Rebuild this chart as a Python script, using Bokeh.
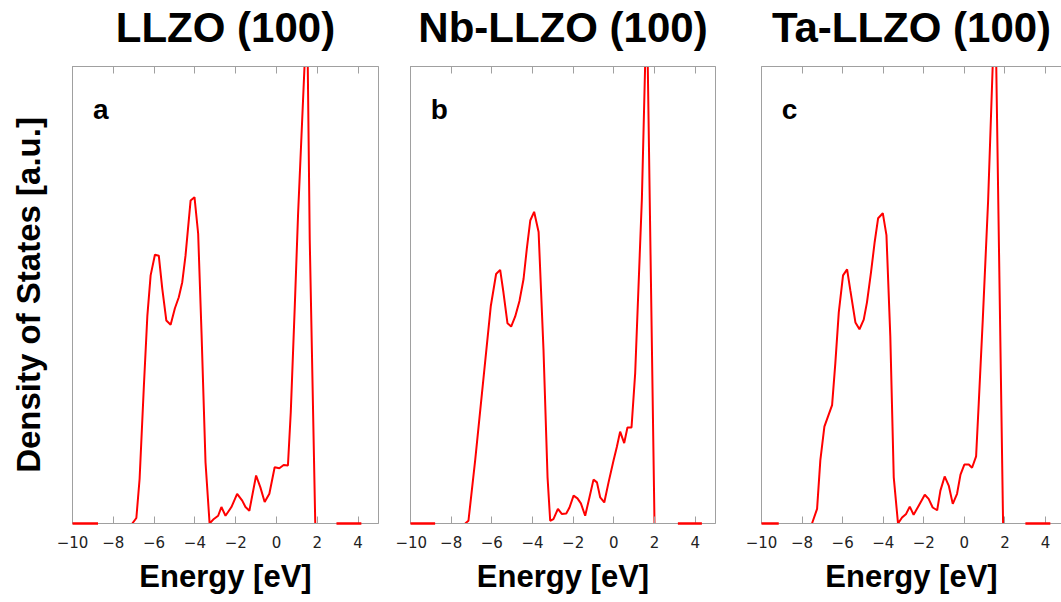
from bokeh.plotting import figure
from bokeh.models import LinearAxis, FixedTicker, Range1d, Label
from bokeh.layouts import row
from bokeh.embed import file_html
from bokeh.resources import INLINE

titles = ["LLZO (100)", "Nb-LLZO (100)", "Ta-LLZO (100)"]
letters = ["a", "b", "c"]
x_ticks = [-10, -8, -6, -4, -2, 0, 2, 4]
x_label = "Energy [eV]"
y_label = "Density of States [a.u.]"

energy_a = [-7.07, -6.87, -6.71, -6.50, -6.33, -6.17, -5.96, -5.77, -5.60, -5.40,
            -5.19, -4.98, -4.79, -4.62, -4.46, -4.21, -4.02, -3.84, -3.67, -3.48,
            -3.28, -3.07, -2.86, -2.70, -2.50, -2.21, -1.93, -1.68, -1.52, -1.33,
            -1.00, -0.79, -0.58, -0.35, -0.09, 0.14, 0.35, 0.56, 0.70, 0.90,
            1.06, 1.50, 1.63, 1.90]
dos_a = [0.0, 0.012, 0.098, 0.302, 0.455, 0.543, 0.588, 0.586, 0.514, 0.444,
         0.435, 0.471, 0.495, 0.528, 0.586, 0.707, 0.714, 0.634, 0.41, 0.134,
         0.0, 0.010, 0.017, 0.036, 0.017, 0.036, 0.065, 0.050, 0.036, 0.028,
         0.105, 0.079, 0.047, 0.065, 0.123, 0.121, 0.128, 0.127, 0.244, 0.48,
         0.68, 1.13, 0.62, 0.0]

energy_b = [-7.31, -7.15, -6.82, -6.05, -5.79, -5.59, -5.43, -5.23, -5.05, -4.85,
            -4.64, -4.44, -4.28, -4.11, -3.92, -3.70, -3.46, -3.26, -3.13, -2.97,
            -2.75, -2.56, -2.34, -2.18, -1.98, -1.79, -1.62, -1.41, -1.20, -1.00,
            -0.83, -0.67, -0.47, -0.26, -0.015, 0.15, 0.31, 0.51, 0.67, 0.87,
            1.05, 1.38, 1.62, 2.00]
dos_b = [0.0, 0.006, 0.138, 0.476, 0.546, 0.555, 0.506, 0.438, 0.431, 0.453,
         0.487, 0.535, 0.601, 0.663, 0.682, 0.638, 0.381, 0.101, 0.006, 0.0095,
         0.032, 0.021, 0.022, 0.035, 0.061, 0.055, 0.044, 0.017, 0.057, 0.096,
         0.090, 0.057, 0.046, 0.090, 0.138, 0.168, 0.201, 0.176, 0.210, 0.210,
         0.329, 0.711, 1.15, 0.0]

energy_c = [-7.51, -7.26, -7.10, -6.90, -6.52, -6.36, -6.19, -5.98, -5.78, -5.62,
            -5.37, -5.17, -4.96, -4.80, -4.60, -4.42, -4.25, -4.02, -3.84, -3.65,
            -3.48, -3.27, -3.07, -2.87, -2.69, -2.50, -2.25, -1.95, -1.76, -1.56,
            -1.34, -1.18, -0.97, -0.77, -0.57, -0.36, -0.19, 0.0, 0.22, 0.38,
            0.58, 0.71, 0.91, 1.17, 1.52, 1.91]
dos_c = [0.0, 0.032, 0.138, 0.212, 0.259, 0.351, 0.462, 0.543, 0.556, 0.510,
         0.440, 0.425, 0.446, 0.484, 0.550, 0.616, 0.668, 0.679, 0.631, 0.410,
         0.101, 0.0, 0.013, 0.021, 0.037, 0.019, 0.039, 0.063, 0.054, 0.035,
         0.029, 0.072, 0.103, 0.083, 0.043, 0.065, 0.107, 0.129, 0.129, 0.122,
         0.147, 0.263, 0.447, 0.704, 1.16, 0.0]

# flat zero-level pieces visible at the ends of each energy window
flat_left_a = [-10.0, -8.75]
flat_right_a = [2.94, 4.16]
flat_left_b = [-10.0, -8.79]
flat_right_b = [3.15, 4.33]
flat_left_c = [-10.0, -9.15]
flat_right_c = [3.01, 4.24]
flat_dos = [0.0, 0.0]

energies = [energy_a, energy_b, energy_c]
doss = [dos_a, dos_b, dos_c]
flats_left = [flat_left_a, flat_left_b, flat_left_c]
flats_right = [flat_right_a, flat_right_b, flat_right_c]

cfg = [
    dict(w=395, bl=72, br=17, xend=5.0),
    dict(w=345, bl=15, br=25, xend=5.0),
    dict(w=321, bl=21, br=0, xend=4.79),
]
BT, BB, H = 66, 79, 602

GRAY = "#a0a0a0"
RED = "#ff0000"

figs = []
for i in range(3):
    c = cfg[i]
    p = figure(width=c["w"], height=H, x_range=Range1d(-10, c["xend"]), y_range=Range1d(0, 1),
               output_backend="svg", toolbar_location=None,
               min_border_left=c["bl"], min_border_right=c["br"],
               min_border_top=BT, min_border_bottom=BB)
    p.grid.visible = False
    p.background_fill_color = "white"
    p.border_fill_color = "white"
    p.outline_line_color = GRAY if i < 2 else None
    p.outline_line_width = 1

    xa = p.xaxis[0]
    xa.ticker = FixedTicker(ticks=x_ticks)
    xa.major_tick_in = 7
    xa.major_tick_out = 0
    xa.minor_tick_line_color = None
    xa.axis_line_color = GRAY
    xa.major_tick_line_color = GRAY
    xa.major_label_text_font = "DejaVu Sans"
    xa.major_label_text_font_size = "15px"
    xa.major_label_text_color = "#222222"
    xa.major_label_standoff = 12
    xa.axis_label = x_label
    xa.axis_label_text_font = "Liberation Sans"
    xa.axis_label_text_font_style = "bold"
    xa.axis_label_text_font_size = "31px"
    xa.axis_label_text_color = "black"
    xa.axis_label_text_line_height = 1.0
    xa.axis_label_standoff = 8

    ya = p.yaxis[0]
    ya.ticker = FixedTicker(ticks=[])
    ya.major_tick_line_color = None
    ya.minor_tick_line_color = None
    ya.major_label_standoff = 0
    ya.axis_line_color = GRAY
    if i == 0:
        ya.axis_label = y_label
        ya.axis_label_text_font = "Liberation Sans"
        ya.axis_label_text_font_style = "bold"
        ya.axis_label_text_font_size = "33px"
        ya.axis_label_text_color = "black"
        ya.axis_label_standoff = 26

    top = LinearAxis(ticker=FixedTicker(ticks=x_ticks), major_tick_in=7, major_tick_out=0,
                     minor_tick_line_color=None, axis_line_color=GRAY, major_tick_line_color=GRAY,
                     major_label_overrides={t: "" for t in x_ticks},
                     major_label_text_font_size="0px", major_label_standoff=0,
                     axis_label=titles[i], axis_label_standoff=16,
                     axis_label_text_font="Liberation Sans", axis_label_text_font_style="bold",
                     axis_label_text_font_size="42px", axis_label_text_color="black",
                     axis_label_text_line_height=1.0)
    p.add_layout(top, "above")

    p.line(energies[i], doss[i], line_color=RED, line_width=2)
    p.line(flats_left[i], flat_dos, line_color=RED, line_width=2.5, level="overlay")
    p.line(flats_right[i], flat_dos, line_color=RED, line_width=2.5, level="overlay")

    p.add_layout(Label(x=-9.0, y=0.905, text=letters[i], text_font="Liberation Sans",
                       text_font_style="bold", text_font_size="28px", text_color="black",
                       text_baseline="alphabetic"))
    figs.append(p)

layout = row(*figs, spacing=0)
open("out.html", "w").write(file_html(layout, INLINE))
